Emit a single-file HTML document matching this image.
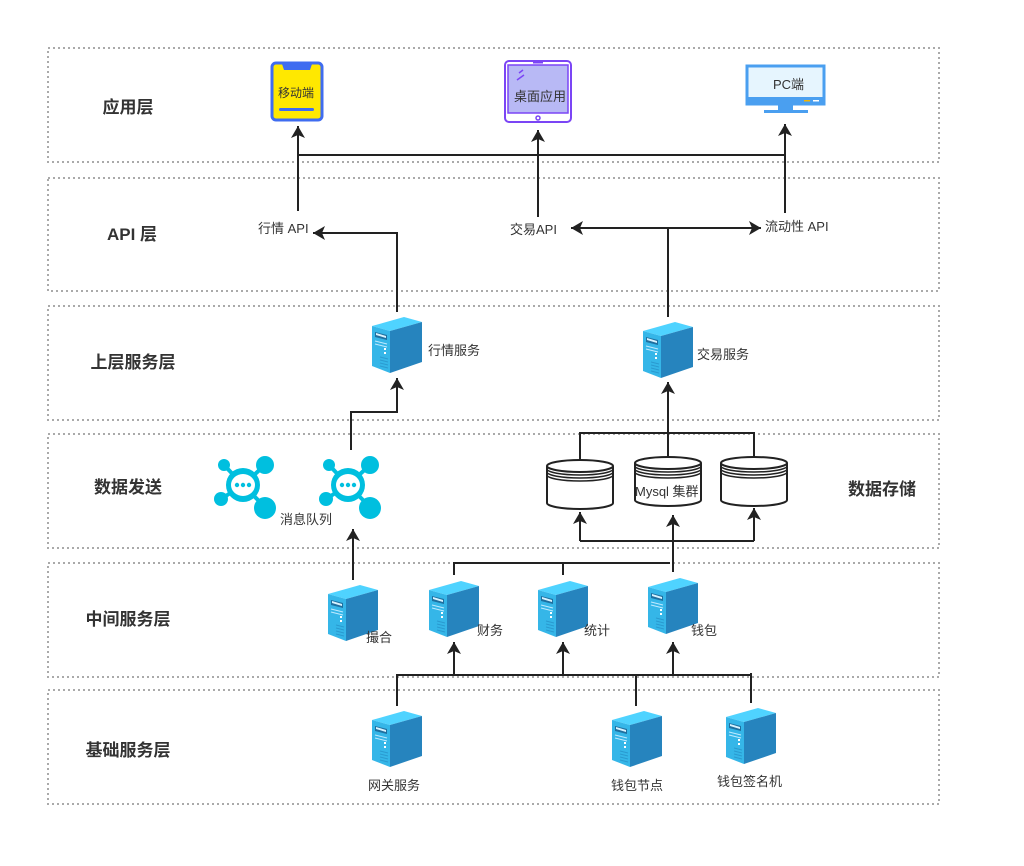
<!DOCTYPE html>
<html><head><meta charset="utf-8"><style>
body{margin:0;background:#fff}
svg{display:block}
text{font-family:"Liberation Sans","Noto Sans CJK SC",sans-serif;fill:#333}
.l{font-size:17px;font-weight:bold;text-anchor:middle;fill:#333}
.t{font-size:13px}
</style></head><body>
<svg width="1024" height="866" viewBox="0 0 1024 866" xmlns="http://www.w3.org/2000/svg">
<defs>
<g id="srv">
<polygon points="0,9 32,0 50,5 18,14" fill="#4fd3ff"/>
<polygon points="0,9 18,14 18,56 0,49" fill="#35b6e8"/>
<polygon points="18,14 50,5 50,45 18,56" fill="#2684be"/>
<polygon points="3,15 15,18 15,23 3,20" fill="#1f6f9f"/>
<polygon points="4,16 14,19 14,21 4,18" fill="#d8f3ff"/>
<line x1="3" y1="24" x2="15" y2="27" stroke="#bfeaff" stroke-width="1"/>
<line x1="3" y1="27" x2="15" y2="30" stroke="#bfeaff" stroke-width="1"/>
<rect x="12" y="31" width="2" height="2" fill="#fff"/>
<rect x="12" y="35" width="2" height="2" fill="#fff"/>
<g stroke="#2a9ad0" stroke-width="1"><line x1="8" y1="40" x2="16" y2="42"/><line x1="8" y1="43" x2="16" y2="45"/><line x1="8" y1="46" x2="16" y2="48"/><line x1="8" y1="49" x2="16" y2="51"/></g>
</g>
<g id="mq" fill="#00bfdf">
<line x1="0" y1="0" x2="-19" y2="-20" stroke="#00bfdf" stroke-width="4"/>
<line x1="0" y1="0" x2="22" y2="-20" stroke="#00bfdf" stroke-width="4"/>
<line x1="0" y1="0" x2="-22" y2="14" stroke="#00bfdf" stroke-width="4"/>
<line x1="0" y1="0" x2="22" y2="22" stroke="#00bfdf" stroke-width="4"/>
<circle cx="-19" cy="-20" r="6"/>
<circle cx="22" cy="-20" r="9"/>
<circle cx="-22" cy="14" r="7"/>
<circle cx="22" cy="23" r="11"/>
<circle cx="0" cy="0" r="17"/>
<ellipse cx="0" cy="0" rx="12" ry="11" fill="#fff"/>
<circle cx="-6" cy="0" r="2.2"/><circle cx="0" cy="0" r="2.2"/><circle cx="6" cy="0" r="2.2"/>
</g>
<g id="db" fill="#fff" stroke="#222" stroke-width="2">
<path d="M0,7 L0,44 A33,6 0 0 0 66,44 L66,7"/>
<ellipse cx="33" cy="7" rx="33" ry="6"/>
<path d="M0,10 A33,6 0 0 0 66,10 M0,13 A33,6 0 0 0 66,13 M0,16 A33,6 0 0 0 66,16" fill="none" stroke-width="1.5"/>
</g>
<marker id="a" markerWidth="10" markerHeight="10" refX="9" refY="5" orient="auto" markerUnits="userSpaceOnUse"><path d="M0,0 L10,5 L0,10 Z" fill="#222"/></marker>
<marker id="a2" viewBox="0 0 12 14" markerWidth="12" markerHeight="14" refX="12" refY="7" orient="auto" markerUnits="userSpaceOnUse"><path d="M0,0 L12,7 L0,14 L3,7 Z" fill="#222"/></marker>
</defs>

<g fill="none" stroke="#aaa" stroke-width="2" stroke-dasharray="2,3">
<rect x="48" y="48" width="891" height="114"/>
<rect x="48" y="178" width="891" height="113"/>
<rect x="48" y="306" width="891" height="114"/>
<rect x="48" y="434" width="891" height="114"/>
<rect x="48" y="563" width="891" height="114"/>
<rect x="48" y="690" width="891" height="114"/>
</g>

<text class="l" x="128" y="113">应用层</text>
<text class="l" x="132" y="240">API 层</text>
<text class="l" x="133" y="368">上层服务层</text>
<text class="l" x="128" y="493">数据发送</text>
<text class="l" x="128" y="625">中间服务层</text>
<text class="l" x="128" y="756">基础服务层</text>
<text class="l" x="882" y="495">数据存储</text>

<!-- devices -->
<rect x="272" y="63" width="50" height="57" rx="4" fill="#ffe800" stroke="#3f6cf0" stroke-width="3"/>
<path d="M282,64 L312,64 L310,70 L284,70 Z" fill="#3f6cf0"/>
<rect x="279" y="108" width="35" height="3" rx="1.5" fill="#3f6cf0"/>
<text class="t" x="278" y="97" style="font-size:12px">移动端</text>
<rect x="505" y="61" width="66" height="61" rx="4" fill="#fff" stroke="#7b45f5" stroke-width="2"/>
<rect x="508" y="65" width="60" height="48" fill="#b8b9f5" stroke="#7b45f5" stroke-width="1.5"/>
<rect x="533" y="62" width="10" height="1.5" fill="#7b45f5"/>
<circle cx="538" cy="118" r="2" fill="none" stroke="#7b45f5" stroke-width="1.5"/>
<path d="M519,73 l4,-3 M517,80 l7,-5" stroke="#7b45f5" stroke-width="1.5"/>
<text class="t" x="514" y="101">桌面应用</text>
<rect x="747" y="66" width="77" height="38" fill="#e6f5fe" stroke="#4a9ff0" stroke-width="3"/>
<rect x="747" y="97" width="77" height="7" fill="#4a9ff0"/>
<rect x="778" y="104" width="15" height="6" fill="#4a9ff0"/>
<rect x="764" y="110" width="44" height="3" fill="#4a9ff0"/>
<rect x="804" y="100" width="6" height="1.5" fill="#f5b400"/>
<rect x="813" y="100" width="6" height="1.5" fill="#fff"/>
<text class="t" x="773" y="89">PC端</text>

<!-- connectors -->
<g stroke="#222" stroke-width="2" fill="none">
<line x1="298" y1="155" x2="785" y2="155"/>
<line x1="298" y1="211" x2="298" y2="126" marker-end="url(#a2)"/>
<line x1="538" y1="217" x2="538" y2="130" marker-end="url(#a2)"/>
<line x1="785" y1="213" x2="785" y2="124" marker-end="url(#a2)"/>
<polyline points="397,312 397,233 313,233" marker-end="url(#a2)"/>
<line x1="668" y1="317" x2="668" y2="228"/>
<line x1="668" y1="228" x2="571" y2="228" marker-end="url(#a2)"/>
<line x1="668" y1="228" x2="761" y2="228" marker-end="url(#a2)"/>
<polyline points="351,450 351,412 397,412 397,378" marker-end="url(#a2)"/>
<polyline points="580,460 580,433 754,433 754,458"/>
<line x1="668" y1="456" x2="668" y2="382" marker-end="url(#a2)"/>
<polyline points="580,541 754,541"/>
<line x1="580" y1="541" x2="580" y2="512" marker-end="url(#a2)"/>
<line x1="754" y1="541" x2="754" y2="508" marker-end="url(#a2)"/>
<line x1="673" y1="572" x2="673" y2="515" marker-end="url(#a2)"/>
<polyline points="454,575 454,563 670,563"/>
<line x1="563" y1="563" x2="563" y2="575"/>
<line x1="353" y1="580" x2="353" y2="529" marker-end="url(#a2)"/>
<line x1="396" y1="675" x2="752" y2="675"/>
<line x1="397" y1="675" x2="397" y2="706"/>
<line x1="636" y1="675" x2="636" y2="706"/>
<line x1="751" y1="673" x2="751" y2="703"/>
<line x1="454" y1="675" x2="454" y2="642" marker-end="url(#a2)"/>
<line x1="563" y1="675" x2="563" y2="642" marker-end="url(#a2)"/>
<line x1="673" y1="675" x2="673" y2="642" marker-end="url(#a2)"/>
</g>

<text class="t" x="258" y="233">行情 API</text>
<text class="t" x="510" y="234">交易API</text>
<text class="t" x="765" y="231">流动性 API</text>

<use href="#srv" x="372" y="317"/><text class="t" x="428" y="355">行情服务</text>
<use href="#srv" x="643" y="322"/><text class="t" x="697" y="359">交易服务</text>

<use href="#mq" x="243" y="485"/>
<use href="#mq" x="348" y="485"/>
<text class="t" x="280" y="524">消息队列</text>

<use href="#db" x="547" y="459"/>
<use href="#db" x="635" y="456"/>
<use href="#db" x="721" y="456"/>
<text class="t" x="635" y="496">Mysql 集群</text>

<use href="#srv" x="328" y="585"/><text class="t" x="366" y="642">撮合</text>
<use href="#srv" x="429" y="581"/><text class="t" x="477" y="635">财务</text>
<use href="#srv" x="538" y="581"/><text class="t" x="584" y="635">统计</text>
<use href="#srv" x="648" y="578"/><text class="t" x="691" y="635">钱包</text>

<use href="#srv" x="372" y="711"/><text class="t" x="368" y="790">网关服务</text>
<use href="#srv" x="612" y="711"/><text class="t" x="611" y="790">钱包节点</text>
<use href="#srv" x="726" y="708"/><text class="t" x="717" y="786">钱包签名机</text>
</svg>
</body></html>
